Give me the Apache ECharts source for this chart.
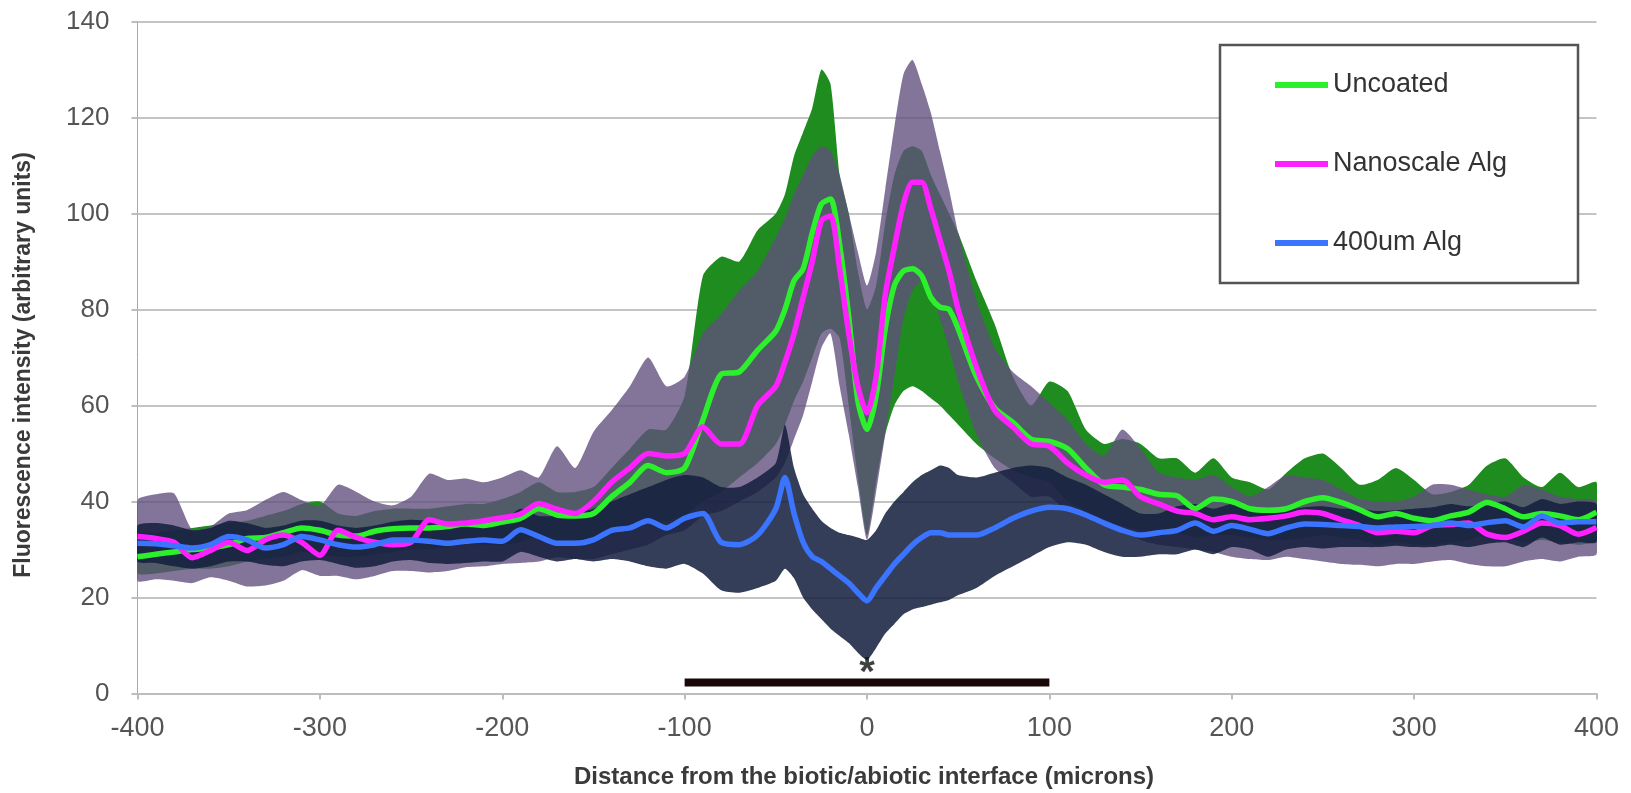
<!DOCTYPE html>
<html><head><meta charset="utf-8">
<script src="https://cdn.jsdelivr.net/npm/echarts@6/dist/echarts.min.js"></script>
<style>html,body{margin:0;padding:0;background:#fff}#c{width:1631px;height:793px}</style>
</head><body><div id="c"></div>
<script>
// x positions (microns)
const X = [
 -400,-390,-380,-370,-360,-350,-340,-330,-320,-310,
 -300,-290,-280,-270,-260,-250,-240,-230,-220,-210,
 -200,-190,-180,-170,-160,-150,-140,-130,-120,-110,
 -100,-90,-80,-70,-60,-50,
 -45,-40,-35,-30,-25,-20,-15,-10,-5,0,5,10,15,20,25,30,35,40,45,
 50,60,70,80,90,100,110,120,130,140,
 150,160,170,180,190,200,210,220,230,240,
 250,260,270,280,290,300,310,320,330,340,
 350,360,370,380,390,400];

const uncoatedMean = [
 28.5,29,29.5,30,30.3,31,32.3,32.5,33.5,34.5,
 34,33,32.8,33.8,34.3,34.5,34.5,34.8,35.3,35,
 35.7,36.5,38.5,37.2,37,37.5,41,44,47.5,46,
 47,57,66.5,67,71.5,75.5,
 80,86,88.5,96,102,103,93.5,78.5,61,55,62,76,85,88,88.5,87,82.5,80.5,80,
 76,66,59.5,56.5,53,52.5,51,47,43.5,43,
 42.5,41.5,41.2,38.5,40.5,40,38.5,38.2,38.5,40,
 40.8,39.8,38.3,36.8,37.5,36.5,36,37,37.8,39.8,
 38.5,36.8,37.5,37,36.2,37.8];
const uncoatedLow = [
 25,25,25.5,26,26,26.5,27.5,28,28.5,29.5,
 29,28.5,28.5,29,29.5,30,30,30.5,31,31,
 31,31.5,33,32,32,32,34,35,36,36,
 37,40,42,45,48,52,
 56,61,65,70,75,76,74,60,45,33,44,54,60,63,64,63,61.5,60,58,
 56,52,49,46.5,45,44,40,38,36,35,
 34,34,33.5,32.5,33,33,32.5,32,32,32.5,
 33,32.5,32,31,31.5,31,31,31.5,32,33,
 32.5,31.5,32,31.5,31,32];
const uncoatedHigh = [
 33,33.5,34,34.5,35,35.5,36,37,38,39.5,
 40,37.5,37,38,38.5,38.5,38.5,39,39.5,39.5,
 40.5,42,44,42,42,43,47,51,55,55,
 62,87,91,90,96.5,100,
 104,112,117,122,130,127,108,100,88,80,85,98,108,113,114,113,108,104,100,
 96,86,77,66,60,65,63,55,52,53,
 52,49,49,46,49,45,44,42.5,46,49,
 50,47,43.5,44.5,47,44.5,41.5,42,43.5,47.5,
 49,45,43,46,43,44];

const nanoMean = [
 32.7,32.3,31.5,28.3,29.8,31.5,29.8,32,33,31.5,
 28.8,34,32.5,31.5,31,31.5,36.2,35.3,35.5,36,
 36.6,37.4,39.6,38.4,37.5,40,44,47,50,49.5,
 50,55.5,52,52,60,64,
 69,75,82.5,90,98.5,99.5,88.5,75,64,58.5,66,83,93,102,106.5,106.5,101,94.5,88,
 80,68,59,55.5,52,51.5,48,45.5,44,44.5,
 41,39.5,38,37.5,36.2,36.8,36.2,36.5,37,37.8,
 37.5,36.2,35,33.5,33.8,33.5,35,35.2,35.5,33.2,
 32.5,33.8,35.5,35,33.2,34.6];
const nanoLow = [
 23.5,23.8,23.5,23,24.2,23.5,22.3,22.5,23.5,25.7,
 24.5,24.5,23.8,24.5,25.5,25.5,25.2,25.5,26.3,26.5,
 27,27.2,27.5,28.4,28,28,29,30,31,33,
 34,37,38,40,42,45,
 48,53,58,65,72,75,64,54,43,32,42,54,66,78,84,86,84,78,72,
 65,54,47,44,41,41,38,37,36,34,
 32,31,30.5,30,29.5,28.5,28,27.8,28.5,28,
 27.5,27,26.8,26.5,27,27,27.5,27.8,27,26.5,
 26.5,27.5,28,27.5,28.5,29];
const nanoHigh = [
 40.3,41.5,41.7,34.1,34.8,37.5,38.2,40.3,42,40.3,
 39,43.5,42,40,39.2,41,45.8,44.5,44.8,44,
 45,46.5,45,51.5,47,54.5,59,64,70,64,
 66,75,79,84,88,95,
 99,104,108,112,114,113,108,100,92,85,92,105,118,129,132,127,121,113,105,
 96,82,72,67,64,60.5,57,52,49.5,55,
 51,46,45,44.5,45.5,43,41,43,45.5,45,
 44.5,42.5,40.5,40,40,41,43.5,43.5,42.5,41.5,
 41,43.5,42.5,41,40.5,40];

const alg400Mean = [
 31.3,31.2,30.8,30.3,31,32.7,32,30.3,31,32.7,
 32,31,30.5,31,32,32,31.7,31.3,31.7,32,
 31.7,34.1,32.7,31.3,31.3,32,34,34.5,36,34.5,
 36.5,37.5,31.5,31,33,38.5,
 45,37.5,31.5,28.5,27.5,26,24.5,23,21,19.3,22,24.5,27,29,31,32.5,33.5,33.5,33,
 33,33,34.5,36.5,38,38.8,38.5,37.2,35.5,34,
 33,33.5,34,35.5,33.8,35,34.2,33.3,34.5,35.3,
 35.2,35,34.8,34.5,34.7,34.8,35,35.5,35,35.6,
 36,34.7,37,35.5,35.8,35.8];
const alg400Low = [
 27.5,27.2,26.5,26,26.5,27.5,27.5,26.8,26.5,27.5,
 27.8,27,26.2,26.5,27.5,27.8,27.2,27,27.2,27.5,
 27.5,29.5,28.5,27.5,28,27.5,28,27.5,26.5,26,
 27,25,21.5,21,22,23.5,
 26,24,20,17.5,15.5,13.5,12,10.5,8.5,7,9.5,12.5,14.5,16.5,17.5,18,18.5,19,19.5,
 20.5,22,24.5,26.5,28.5,30.5,31.5,31,29.5,28.5,
 28.5,29,29,30,29,30.5,30,28.5,30,30.5,
 30.2,30.5,30.5,30.5,30.8,30.5,30.5,31,30.5,31.2,
 31.5,30.5,32.5,31,31.5,31.5];
const alg400High = [
 35,35.5,35,34,34.5,36,35.5,34.5,35,36,
 36,35,34.5,35,35.8,36.2,36,35.8,36,36.2,
 36,38.5,37,37,37.5,38.5,40,41.5,43,44.5,
 45.5,45,43,43,45,48,
 56,47,41.5,38.5,36,34.5,33.5,33,32.5,32,34,37.5,40,42,44,45.5,46.5,47.5,47,
 45.5,45,46,47,47.5,47,45,43.5,41.5,39.5,
 37.5,37.5,39,39.5,38.5,39.5,38.5,38,38.2,38.8,
 39,38.5,38.5,38,38.2,38.5,38.8,39.5,39,39.5,
 40,38.8,40.5,39.5,40,39.5];

// significance bar (-100..100) and asterisk
const sigBar = [[-100, 2.3], [100, 2.3]];
const sigStar = [[0, 4.0]];

const seriesNames = ['Uncoated', 'Nanoscale Alg', '400um Alg'];
const yTicks = {min: 0, max: 140, interval: 20};
const xTicks = {min: -400, max: 400, interval: 100};

const FONT = "'Liberation Sans', Arial, Helvetica, sans-serif";
function pairs(ys){ return X.map((x,i)=>[x, ys[i]]); }
const SM = 0.25;

// error band drawn as one polygon through the library's coordinate system
function band(id, lo, hi, color){
  const rows = X.map((x,i)=>[x, lo[i], hi[i]]);
  return {
    type:'custom', name:id, data:rows, silent:true, animation:false, clip:true,
    encode:{x:0, y:[1,2]},
    renderItem:function(params, api){
      if (params.dataIndex !== 0) return null;
      const top = rows.map(r=>api.coord([r[0], r[2]]));
      const bot = rows.map(r=>api.coord([r[0], r[1]])).reverse();
      return {type:'polygon', shape:{points: top.concat(bot), smooth:0.2},
        style:{fill:color, stroke:null}};
    }
  };
}
function meanLine(name, ys, color){
  return {type:'line', name:name, data:pairs(ys), symbol:'none', smooth:SM,
    lineStyle:{width:5.5, color:color}, itemStyle:{color:color}, animation:false};
}

const chart = echarts.init(document.getElementById('c'));
chart.setOption({
  animation:false,
  backgroundColor:'#fff',
  grid:{left:137.5, right:34.5, top:21.5, bottom:99.5, containLabel:false},
  xAxis:{type:'value', min:xTicks.min, max:xTicks.max, interval:xTicks.interval,
    axisLine:{show:true, onZero:false, lineStyle:{color:'#bdbdbd', width:2}},
    axisTick:{show:true, length:6, lineStyle:{color:'#bdbdbd', width:2}},
    splitLine:{show:false},
    axisLabel:{fontFamily:FONT, fontSize:27, color:'#555', margin:22}},
  yAxis:{type:'value', min:yTicks.min, max:yTicks.max, interval:yTicks.interval,
    axisLine:{show:true, onZero:false, lineStyle:{color:'#a8a8a8', width:1}},
    axisTick:{show:true, length:6, lineStyle:{color:'#bdbdbd', width:2}},
    splitLine:{show:true, lineStyle:{color:'#c4c4c4', width:2}},
    axisLabel:{fontFamily:FONT, fontSize:26, color:'#555', margin:28}},
  legend:{data:seriesNames, orient:'vertical', left:1275, top:71.5, padding:0,
    itemGap:52, itemWidth:53, itemHeight:6, icon:'rect', z:10,
    textStyle:{fontFamily:FONT, fontSize:27, color:'#333'}},
  graphic:[
    {type:'rect', z:9, shape:{x:1220, y:45, width:358, height:238},
     style:{fill:'#fff', stroke:'#555', lineWidth:2.5}},
    {type:'text', x:24, y:365, rotation:Math.PI/2, z:9,
     style:{text:'Fluorescence intensity (arbitrary units)', fontFamily:FONT, fontSize:23, fontWeight:'bold',
       fill:'#3a3a3a', align:'center', verticalAlign:'middle'}},
    {type:'text', x:864, y:777, z:9,
     style:{text:'Distance from the biotic/abiotic interface (microns)', fontFamily:FONT, fontSize:24, fontWeight:'bold',
       fill:'#3a3a3a', align:'center', verticalAlign:'middle'}}
  ],
  series:[
    band('gBand', uncoatedLow, uncoatedHigh, '#1f8c1f'),
    band('pBand', nanoLow, nanoHigh, 'rgba(96,78,126,0.78)'),
    band('bBand', alg400Low, alg400High, 'rgba(20,30,60,0.86)'),
    meanLine('Uncoated', uncoatedMean, '#2cf02c'),
    meanLine('Nanoscale Alg', nanoMean, '#ff20ff'),
    meanLine('400um Alg', alg400Mean, '#3a74ff'),
    {type:'line', name:'sig', data:sigBar, symbol:'none', silent:true,
     lineStyle:{width:8, color:'#1a0808', cap:'butt'}},
    {type:'scatter', name:'star', data:sigStar, symbol:'circle', symbolSize:2, silent:true, z:5,
     itemStyle:{color:'rgba(0,0,0,0)'},
     label:{show:true, formatter:'*', position:'inside', fontFamily:FONT, fontSize:40, fontWeight:'bold', color:'#111'}}
  ]
});
</script></body></html>
